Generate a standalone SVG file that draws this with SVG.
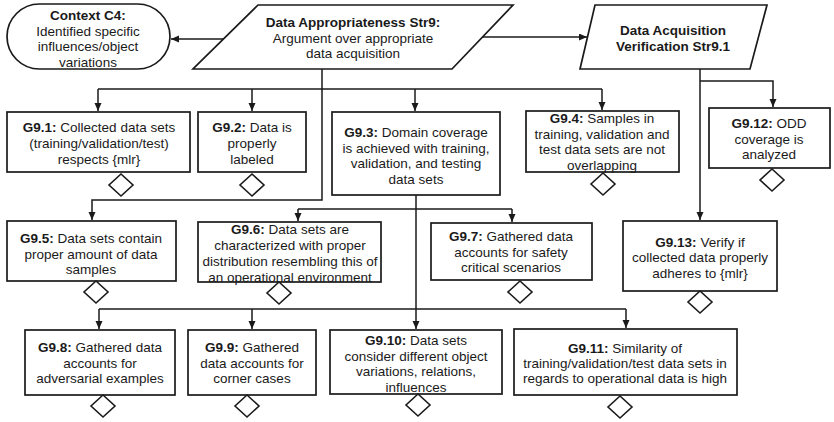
<svg xmlns="http://www.w3.org/2000/svg" xmlns:xlink="http://www.w3.org/1999/xlink" width="834" height="422" viewBox="0 0 834 422">
  <style>
    .box { fill: #ffffff; stroke: #1a1a1a; stroke-width: 1.7; }
    .dia { fill: #ffffff; stroke: #1a1a1a; stroke-width: 1.6; }
    .wire { fill: none; stroke: #1a1a1a; stroke-width: 1.5; }
    text { font-family: "Liberation Sans", Arial, sans-serif; font-size: 13.5px; fill: #1a1a1a; text-anchor: middle; }
    .b { font-weight: bold; }
  </style>
  <defs>
    <marker id="arrow" markerUnits="userSpaceOnUse" markerWidth="8" markerHeight="8" refX="8" refY="3.5" orient="auto">
      <path d="M0,0 L8,3.5 L0,7 Z" fill="#1a1a1a"/>
    </marker>
    <path id="diamond" class="dia" d="M0,-11 L12,0 L0,11 L-12,0 Z"/>
  </defs>

  <rect width="834" height="422" fill="#ffffff"/>

  <!-- connectors -->
  <g id="connectors">
    <path class="wire" d="M226,39 H171" marker-end="url(#arrow)"/>
    <path class="wire" d="M482,37 H587" marker-end="url(#arrow)"/>
    <path class="wire" d="M322,69 V200 H92 V220" marker-end="url(#arrow)"/>
    <path class="wire" d="M98,89 H602"/>
    <path class="wire" d="M98,89 V111" marker-end="url(#arrow)"/>
    <path class="wire" d="M252,89 V111" marker-end="url(#arrow)"/>
    <path class="wire" d="M415,89 V111" marker-end="url(#arrow)"/>
    <path class="wire" d="M602,89 V110" marker-end="url(#arrow)"/>
    <path class="wire" d="M416,195 V329" marker-end="url(#arrow)"/>
    <path class="wire" d="M298,209 H512"/>
    <path class="wire" d="M298,209 V221" marker-end="url(#arrow)"/>
    <path class="wire" d="M512,209 V222" marker-end="url(#arrow)"/>
    <path class="wire" d="M99,309 H626"/>
    <path class="wire" d="M99,309 V329" marker-end="url(#arrow)"/>
    <path class="wire" d="M252,309 V329" marker-end="url(#arrow)"/>
    <path class="wire" d="M626,309 V328" marker-end="url(#arrow)"/>
    <path class="wire" d="M700,69 V220" marker-end="url(#arrow)"/>
    <path class="wire" d="M700,81 H773 V107" marker-end="url(#arrow)"/>
  </g>

  <!-- context -->
  <g id="C4">
    <rect class="box" x="7" y="4" width="163" height="65" rx="32.5" ry="32.5"/>
    <text x="88" y="20" class="b">Context C4:</text>
    <text x="88" y="35.5">Identified specific</text>
    <text x="88" y="51">influences/object</text>
    <text x="88" y="66.5">variations</text>
  </g>

  <!-- strategies -->
  <g id="Str9">
    <polygon class="box" points="258,5 513,5 452,69 193,69"/>
    <text x="353" y="27" class="b">Data Appropriateness Str9:</text>
    <text x="353" y="42.5">Argument over appropriate</text>
    <text x="353" y="58">data acquisition</text>
  </g>

  <g id="Str9_1">
    <polygon class="box" points="595,5 767,5 750,69 580,69"/>
    <text x="673" y="35" class="b">Data Acquisition</text>
    <text x="673" y="51" class="b">Verification Str9.1</text>
  </g>

  <!-- goals -->
  <g id="G9_1">
    <rect class="box" x="7" y="112" width="183" height="60"/>
    <text x="99" y="132"><tspan class="b">G9.1:</tspan> Collected data sets</text>
    <text x="99" y="148">(training/validation/test)</text>
    <text x="99" y="164">respects {mlr}</text>
    <use xlink:href="#diamond" x="121" y="185"/>
  </g>

  <g id="G9_2">
    <rect class="box" x="198" y="112" width="108" height="60"/>
    <text x="252" y="132"><tspan class="b">G9.2:</tspan> Data is</text>
    <text x="252" y="148">properly</text>
    <text x="252" y="164">labeled</text>
    <use xlink:href="#diamond" x="252" y="185"/>
  </g>

  <g id="G9_3">
    <rect class="box" x="332" y="112" width="168" height="83"/>
    <text x="416" y="137"><tspan class="b">G9.3:</tspan> Domain coverage</text>
    <text x="416" y="152.5">is achieved with training,</text>
    <text x="416" y="168">validation, and testing</text>
    <text x="416" y="183.5">data sets</text>
  </g>

  <g id="G9_4">
    <rect class="box" x="526" y="111" width="153" height="61"/>
    <text x="602" y="123"><tspan class="b">G9.4:</tspan> Samples in</text>
    <text x="602" y="138.5">training, validation and</text>
    <text x="602" y="154">test data sets are not</text>
    <text x="602" y="169.5">overlapping</text>
    <use xlink:href="#diamond" x="603" y="184"/>
  </g>

  <g id="G9_12">
    <rect class="box" x="709" y="108" width="121" height="60"/>
    <text x="769" y="128"><tspan class="b">G9.12:</tspan> ODD</text>
    <text x="769" y="144">coverage is</text>
    <text x="769" y="159">analyzed</text>
    <use xlink:href="#diamond" x="772" y="180"/>
  </g>

  <g id="G9_5">
    <rect class="box" x="7" y="221" width="169" height="60"/>
    <text x="91" y="243"><tspan class="b">G9.5:</tspan> Data sets contain</text>
    <text x="91" y="259">proper amount of data</text>
    <text x="91" y="274">samples</text>
    <use xlink:href="#diamond" x="96" y="292"/>
  </g>

  <g id="G9_6">
    <rect class="box" x="198" y="222" width="183" height="60"/>
    <text x="290" y="234"><tspan class="b">G9.6:</tspan> Data sets are</text>
    <text x="290" y="250">characterized with proper</text>
    <text x="290" y="266">distribution resembling this of</text>
    <text x="290" y="282">an operational environment</text>
    <use xlink:href="#diamond" x="279" y="293"/>
  </g>

  <g id="G9_7">
    <rect class="box" x="431" y="223" width="161" height="57"/>
    <text x="511" y="241"><tspan class="b">G9.7:</tspan> Gathered data</text>
    <text x="511" y="257">accounts for safety</text>
    <text x="511" y="272">critical scenarios</text>
    <use xlink:href="#diamond" x="520" y="292"/>
  </g>

  <g id="G9_13">
    <rect class="box" x="623" y="221" width="154" height="70"/>
    <text x="700" y="247"><tspan class="b">G9.13:</tspan> Verify if</text>
    <text x="700" y="262">collected data properly</text>
    <text x="700" y="278">adheres to {mlr}</text>
    <use xlink:href="#diamond" x="700" y="302"/>
  </g>

  <g id="G9_8">
    <rect class="box" x="25" y="330" width="150" height="65"/>
    <text x="100" y="352"><tspan class="b">G9.8:</tspan> Gathered data</text>
    <text x="100" y="368">accounts for</text>
    <text x="100" y="383">adversarial examples</text>
    <use xlink:href="#diamond" x="103" y="406"/>
  </g>

  <g id="G9_9">
    <rect class="box" x="188" y="330" width="128" height="65"/>
    <text x="252" y="352"><tspan class="b">G9.9:</tspan> Gathered</text>
    <text x="252" y="368">data accounts for</text>
    <text x="252" y="383">corner cases</text>
    <use xlink:href="#diamond" x="247" y="406"/>
  </g>

  <g id="G9_10">
    <rect class="box" x="330" y="330" width="172" height="64"/>
    <text x="416" y="345"><tspan class="b">G9.10:</tspan> Data sets</text>
    <text x="416" y="360.5">consider different object</text>
    <text x="416" y="376">variations, relations,</text>
    <text x="416" y="391.5">influences</text>
    <use xlink:href="#diamond" x="418" y="405"/>
  </g>

  <g id="G9_11">
    <rect class="box" x="514" y="329" width="223" height="66"/>
    <text x="625" y="353"><tspan class="b">G9.11:</tspan> Similarity of</text>
    <text x="625" y="368">training/validation/test data sets in</text>
    <text x="625" y="383">regards to operational data is high</text>
    <use xlink:href="#diamond" x="620" y="407"/>
  </g>
</svg>
